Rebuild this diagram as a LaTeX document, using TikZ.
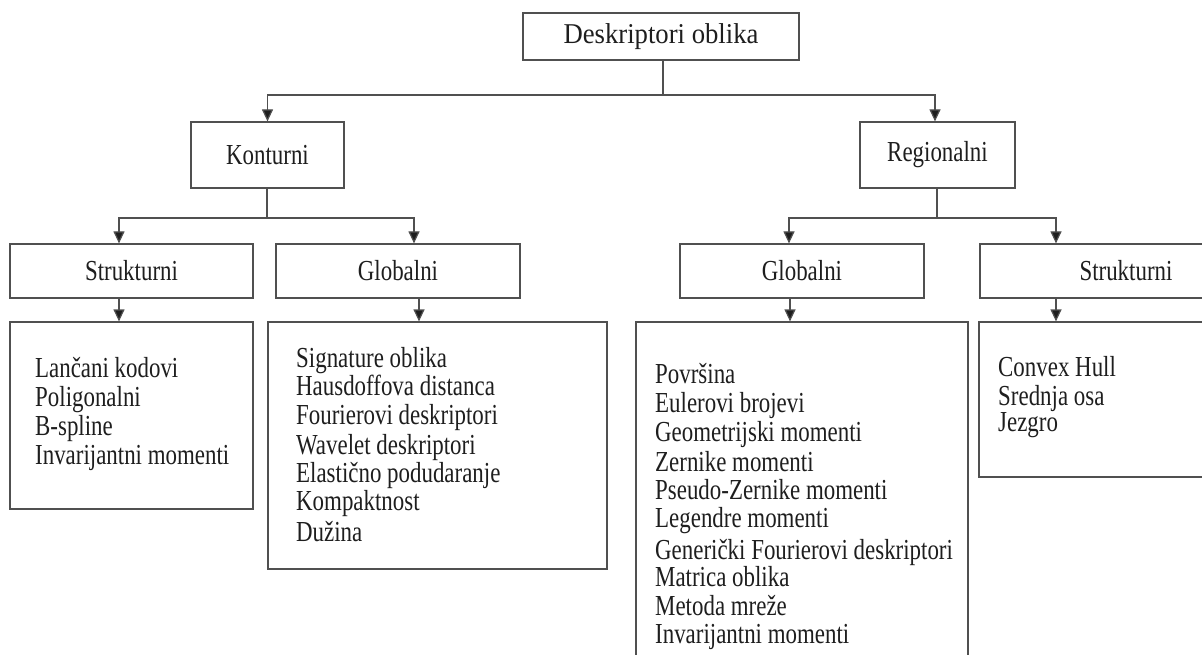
\documentclass[tikz,border=0pt]{standalone}
\usepackage{fontspec}
\setmainfont{Liberation Serif}
\newfontfamily\narrowfont[FakeStretch=0.79]{Liberation Serif}
\newfontfamily\titlefont[FakeStretch=0.93]{Liberation Serif}
\usetikzlibrary{arrows.meta}
\definecolor{edge}{RGB}{80,80,80}
\definecolor{ink}{RGB}{30,30,30}
\begin{document}
\begin{tikzpicture}[x=1pt,y=-1pt,
  box/.style={draw=edge,line width=1.2pt,inner sep=0pt,text=ink},
  headbox/.style={box,font=\titlefont\fontsize{28.7}{30}\selectfont},
  catbox/.style={box,font=\narrowfont\fontsize{29}{30}\selectfont},
  listbox/.style={draw=edge,line width=1.2pt,inner sep=0pt},
  item/.style={anchor=base west,inner sep=0pt,text=ink,font=\narrowfont\fontsize{29}{30}\selectfont},
  line/.style={draw=edge,line width=1.2pt},
  arr/.style={line,-{Triangle[length=12pt,width=11pt,fill=ink]}}]
\useasboundingbox (0,0) rectangle (1202,655);
\clip (0,0) rectangle (1202,655);
\fill[white] (0,0) rectangle (1202,655);

% root
\node[headbox,minimum width=276,minimum height=47] (title) at (661,36.5) {Deskriptori oblika};

% first level
\node[catbox,minimum width=153,minimum height=66] (kont) at (267.5,155) {Konturni};
\node[catbox,minimum width=155,minimum height=66] (reg) at (937.5,155) {Regionalni};

% second level
\node[catbox,minimum width=243,minimum height=54] (kstr) at (131.5,271) {Strukturni};
\node[catbox,minimum width=244,minimum height=54] (kglo) at (398,271) {Globalni};
\node[catbox,minimum width=244,minimum height=54] (rglo) at (802,271) {Globalni};
\node[catbox,minimum width=292,minimum height=54] (rstr) at (1126,271) {Strukturni};

% method lists
\node[listbox,minimum width=243,minimum height=187] (kstrl) at (131.5,415.5) {};
\node[listbox,minimum width=339,minimum height=247] (kglol) at (437.5,445.5) {};
\node[listbox,minimum width=332,minimum height=358] (rglol) at (802,501) {};
\node[listbox,minimum width=293,minimum height=155] (rstrl) at (1125.5,399.5) {};

\foreach \txt/\yy [count=\i] in {Lančani kodovi/377.7, Poligonalni/406, B-spline/435, Invarijantni momenti/464.5}
  \node[item] (ks\i) at (35,\yy) {\txt};

\foreach \txt/\yy [count=\i] in {Signature oblika/367.7, Hausdoffova distanca/395.7, Fourierovi deskriptori/424.3, Wavelet deskriptori/454, Elastično podudaranje/482.7, Kompaktnost/510.7, Dužina/541.7}
  \node[item] (kg\i) at (296,\yy) {\txt};

\foreach \txt/\yy [count=\i] in {Površina/383, Eulerovi brojevi/412, Geometrijski momenti/441.7, Zernike momenti/471, Pseudo-Zernike momenti/499, Legendre momenti/527.7, Generički Fourierovi deskriptori/559, Matrica oblika/586.7, Metoda mreže/615, Invarijantni momenti/643}
  \node[item] (rg\i) at (655,\yy) {\txt};

\foreach \txt/\yy [count=\i] in {Convex Hull/376, Srednja osa/405, Jezgro/431.7}
  \node[item] (rs\i) at (998,\yy) {\txt};

% connectors
\coordinate (tj) at (663,95);
\draw[line] (title.south -| tj) -- (tj);
\draw[arr] (tj) -| (kont.north);
\draw[arr] (tj) -| ([xshift=-2.5]reg.north);

\coordinate (kj) at (267,218);
\draw[line] (kont.south -| kj) -- (kj);
\draw[arr] (kj) -| ([xshift=-12.5]kstr.north);
\draw[arr] (kj) -| ([xshift=16]kglo.north);

\coordinate (rj) at (937,218);
\draw[line] (reg.south -| rj) -- (rj);
\draw[arr] (rj) -| ([xshift=-13]rglo.north);
\draw[arr] (rj) -| ([xshift=-70]rstr.north);

\draw[arr] ([xshift=-12.5]kstr.south) -- ([xshift=-12.5]kstr.south |- kstrl.north);
\draw[arr] ([xshift=21]kglo.south) -- ([xshift=21]kglo.south |- kglol.north);
\draw[arr] ([xshift=-12]rglo.south) -- ([xshift=-12]rglo.south |- rglol.north);
\draw[arr] ([xshift=-70]rstr.south) -- ([xshift=-70]rstr.south |- rstrl.north);
\end{tikzpicture}
\end{document}
